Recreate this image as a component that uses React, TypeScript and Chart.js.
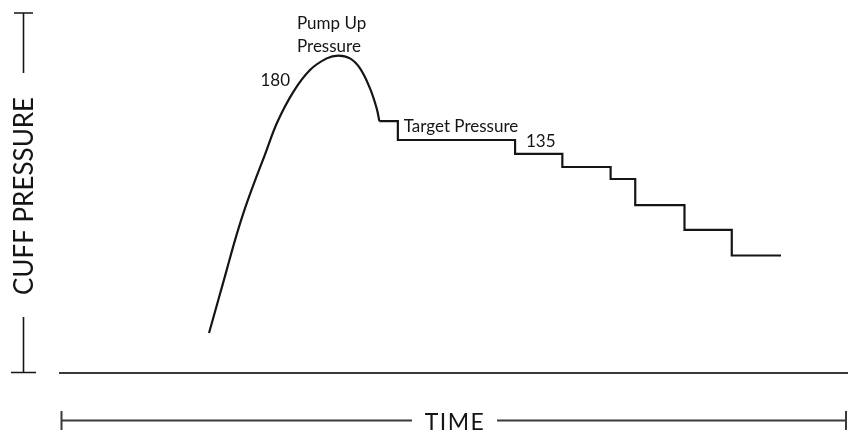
import { useEffect, useRef } from 'react';
import { Chart, ChartConfiguration, Plugin, registerables } from 'chart.js';

Chart.register(...registerables);

// time (s) and cuff pressure (mmHg)
const pumpTime = [15.13, 16.07, 16.92, 17.77, 18.61, 19.57, 20.79, 22.08, 23.69, 25.38, 27.08, 28.25, 29.44, 30.46, 31.47, 32.15, 32.42];
const pumpPressure = [24.1, 44.2, 62.5, 80.8, 97.1, 113.4, 132.7, 153.0, 171.3, 184.6, 191.7, 193.4, 191.7, 185.6, 173.4, 161.2, 153.4];

const stepTime = [32.42, 34.3, 46.2, 51.0, 55.9, 58.4, 63.4, 68.2, 73.2];
const stepPressure = [153.4, 141.9, 133.4, 125.4, 118.1, 102.2, 87.0, 71.4, 71.4];

const noteText = ['Pump Up', 'Pressure', '180', 'Target Pressure', '135'];
const noteTime = [24.06, 24.06, 23.35, 34.9, 47.3];
const notePressure = [209.6, 195.5, 174.8, 146.9, 137.4];
const noteAlign: CanvasTextAlign[] = ['left', 'left', 'right', 'left', 'left'];

const FONT = 'Lato, "Open Sans", sans-serif';
const INK = '#151515';

const decorPlugin: Plugin<'line'> = {
  id: 'decor',
  afterDraw(chart) {
    const { ctx, chartArea, scales } = chart;
    const x = scales.x;
    const y = scales.y;

    ctx.save();

    // notes beside the trace
    ctx.fillStyle = INK;
    ctx.font = `17px ${FONT}`;
    ctx.textBaseline = 'alphabetic';
    noteText.forEach((t, i) => {
      ctx.textAlign = noteAlign[i];
      ctx.fillText(t, x.getPixelForValue(noteTime[i]), y.getPixelForValue(notePressure[i]));
    });

    // TIME bracket under the axis
    const ty = chartArea.bottom + 48;
    const mid = (chartArea.left + chartArea.right) / 2;
    const x0 = chartArea.left + 1.5;
    const x1 = chartArea.right - 2;
    ctx.strokeStyle = '#3a3a3a';
    ctx.lineWidth = 2;
    ctx.beginPath();
    ctx.moveTo(x0, ty);
    ctx.lineTo(mid - 42, ty);
    ctx.moveTo(mid + 43, ty);
    ctx.lineTo(x1, ty);
    ctx.moveTo(x0, ty - 9.5);
    ctx.lineTo(x0, ty + 9.5);
    ctx.moveTo(x1, ty - 9.5);
    ctx.lineTo(x1, ty + 9.5);
    ctx.stroke();

    ctx.fillStyle = INK;
    ctx.font = `23px ${FONT}`;
    ctx.textAlign = 'center';
    ctx.textBaseline = 'middle';
    (ctx as any).letterSpacing = '1.5px';
    ctx.fillText('TIME', mid + 1, ty + 2);
    (ctx as any).letterSpacing = '0px';

    // CUFF PRESSURE bracket at the left
    const bx = 23.5;
    const top = chartArea.top + 1;
    const bottom = chartArea.bottom;
    const cy = 196;
    ctx.strokeStyle = INK;
    ctx.lineWidth = 1.6;
    ctx.beginPath();
    ctx.moveTo(14, top);
    ctx.lineTo(33, top);
    ctx.moveTo(bx, top);
    ctx.lineTo(bx, top + 60);
    ctx.moveTo(bx, 317);
    ctx.lineTo(bx, bottom);
    ctx.moveTo(11, bottom);
    ctx.lineTo(36, bottom);
    ctx.stroke();

    ctx.translate(bx + 1, cy);
    ctx.rotate(-Math.PI / 2);
    ctx.font = `26px ${FONT}`;
    ctx.textAlign = 'center';
    ctx.textBaseline = 'middle';
    ctx.fillText('CUFF PRESSURE', 0, 0);

    ctx.restore();
  },
};

const App = () => {
  const chartRef = useRef<HTMLCanvasElement>(null);
  const chartInstanceRef = useRef<Chart | null>(null);

  useEffect(() => {
    if (!chartRef.current) return;
    const ctx = chartRef.current.getContext('2d');
    if (!ctx) return;

    if (chartInstanceRef.current) {
      chartInstanceRef.current.destroy();
    }

    const config: ChartConfiguration<'line'> = {
      type: 'line',
      data: {
        datasets: [
          {
            label: 'Pump up',
            data: pumpTime.map((t, i) => ({ x: t, y: pumpPressure[i] })),
            borderColor: INK,
            borderWidth: 2.2,
            pointRadius: 0,
            tension: 0.4,
            fill: false,
          },
          {
            label: 'Deflation steps',
            data: stepTime.map((t, i) => ({ x: t, y: stepPressure[i] })),
            borderColor: INK,
            borderWidth: 2.2,
            pointRadius: 0,
            // horizontal first, then the drop
            stepped: 'before',
            fill: false,
          },
        ],
      },
      options: {
        animation: false,
        responsive: true,
        maintainAspectRatio: false,
        layout: { padding: { left: 60, right: 0, top: 12, bottom: 60.5 } },
        plugins: {
          legend: { display: false },
          tooltip: { enabled: false },
        },
        scales: {
          x: {
            type: 'linear',
            min: 0,
            max: 80,
            ticks: { display: false },
            grid: { display: false, drawTicks: false },
            border: { display: true, color: '#3a3a3a', width: 2 },
          },
          y: {
            type: 'linear',
            min: 0,
            max: 220,
            display: false,
          },
        },
      },
      plugins: [decorPlugin],
    };

    chartInstanceRef.current = new Chart(ctx, config);

    return () => {
      if (chartInstanceRef.current) {
        chartInstanceRef.current.destroy();
        chartInstanceRef.current = null;
      }
    };
  }, []);

  return (
    <div style={{ position: 'fixed', left: 0, top: 0, width: 848, height: 433, background: '#fff' }}>
      <canvas ref={chartRef}></canvas>
    </div>
  );
};

export default App;
